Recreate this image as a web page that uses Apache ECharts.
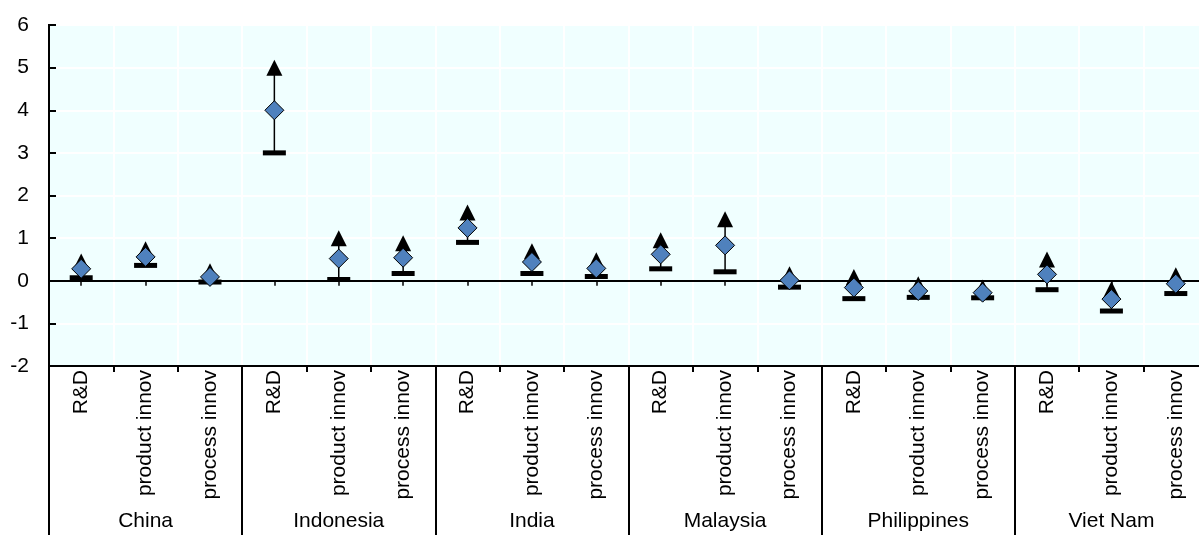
<!DOCTYPE html>
<html>
<head>
<meta charset="utf-8">
<script src="https://cdn.jsdelivr.net/npm/echarts@6/dist/echarts.min.js"></script>
<style>
html,body{margin:0;padding:0;background:#fff;}
#chart{width:1199px;height:535px;}
</style>
</head>
<body>
<div id="chart"></div>
<script>
// ---- data ----
var countries = ['China', 'Indonesia', 'India', 'Malaysia', 'Philippines', 'Viet Nam'];
var measures = ['R&D', 'product innov', 'process innov'];
var categories = [
  'R&D', 'product innov', 'process innov',
  'R&D', 'product innov', 'process innov',
  'R&D', 'product innov', 'process innov',
  'R&D', 'product innov', 'process innov',
  'R&D', 'product innov', 'process innov',
  'R&D', 'product innov', 'process innov'
];
var upper = [0.45, 0.74, 0.22, 5.0, 1.0, 0.88, 1.6, 0.69, 0.48, 0.95, 1.44, 0.15, 0.09, -0.08, -0.16, 0.5, -0.2, 0.13];
var mid   = [0.28, 0.56, 0.09, 4.0, 0.52, 0.54, 1.24, 0.44, 0.29, 0.62, 0.83, 0.01, -0.16, -0.24, -0.28, 0.15, -0.43, -0.07];
var lower = [0.07, 0.36, -0.03, 3.0, 0.03, 0.17, 0.90, 0.17, 0.10, 0.28, 0.21, -0.15, -0.42, -0.39, -0.40, -0.21, -0.71, -0.30];
var yTicks = {min: -2, max: 6, interval: 1};

var FONT = "'Liberation Sans', Arial, sans-serif";

var chart = echarts.init(document.getElementById('chart'), null, {renderer: 'canvas'});

var rangeData = categories.map(function (c, i) { return [i, lower[i], upper[i]]; });

var option = {
  animation: false,
  backgroundColor: '#ffffff',
  grid: {
    left: 49, top: 25, right: -9, bottom: 169,
    show: true, backgroundColor: '#f0ffff', borderColor: '#000', borderWidth: 2,
    containLabel: false, outerBoundsMode: 'none'
  },
  xAxis: [
    {
      type: 'category', data: categories, position: 'bottom', boundaryGap: true,
      axisLine: {onZero: false, lineStyle: {color: '#000', width: 2}},
      axisTick: {show: true, interval: 0, length: 6, lineStyle: {color: '#000', width: 2}},
      axisLabel: {interval: 0, rotate: 90, margin: 4, color: '#000', fontSize: 21, fontFamily: FONT},
      splitLine: {show: true, interval: 0, lineStyle: {color: '#ffffff', width: 2}}
    },
    {
      type: 'category', data: countries, position: 'bottom', boundaryGap: true,
      axisLine: {show: false, onZero: false},
      axisTick: {show: true, interval: 0, length: 169, lineStyle: {color: '#000', width: 2}},
      axisLabel: {interval: 0, margin: 145, color: '#000', fontSize: 21, fontFamily: FONT},
      splitLine: {show: false}
    },
    {
      type: 'category', data: categories, position: 'bottom', boundaryGap: true,
      axisLine: {onZero: true, lineStyle: {color: '#000', width: 1.8}},
      axisTick: {show: true, alignWithLabel: true, interval: 0, length: 5, lineStyle: {color: '#000', width: 1.5}},
      axisLabel: {show: false},
      splitLine: {show: false}
    }
  ],
  yAxis: {
    type: 'value', min: yTicks.min, max: yTicks.max, interval: yTicks.interval,
    axisLine: {show: true, onZero: false, lineStyle: {color: '#000', width: 2}},
    axisTick: {show: true, inside: true, length: 7, lineStyle: {color: '#000', width: 2}},
    axisLabel: {margin: 20, color: '#000', fontSize: 21, fontFamily: FONT},
    splitLine: {show: true, lineStyle: {color: '#ffffff', width: 2}}
  },
  series: [
    {
      type: 'custom', xAxisIndex: 0, data: rangeData, z: 2,
      encode: {x: 0, y: [1, 2]},
      renderItem: function (params, api) {
        var p1 = api.coord([api.value(0), api.value(1)]);
        var p2 = api.coord([api.value(0), api.value(2)]);
        return {type: 'line', shape: {x1: p1[0], y1: p1[1], x2: p2[0], y2: p2[1]},
                style: {stroke: '#000', lineWidth: 1.5}};
      }
    },
    {
      type: 'scatter', xAxisIndex: 0, data: lower, symbol: 'rect', symbolSize: [23, 5], z: 3,
      itemStyle: {color: '#000', opacity: 1}
    },
    {
      type: 'scatter', xAxisIndex: 0, data: upper, symbol: 'triangle', symbolSize: [16, 16], z: 4,
      itemStyle: {color: '#000', opacity: 1}
    },
    {
      type: 'scatter', xAxisIndex: 0, data: mid, symbol: 'diamond', symbolSize: [19, 19], z: 5,
      itemStyle: {color: '#4F81BD', borderColor: '#000', borderWidth: 1, opacity: 1}
    }
  ]
};
chart.setOption(option);
</script>
</body>
</html>
